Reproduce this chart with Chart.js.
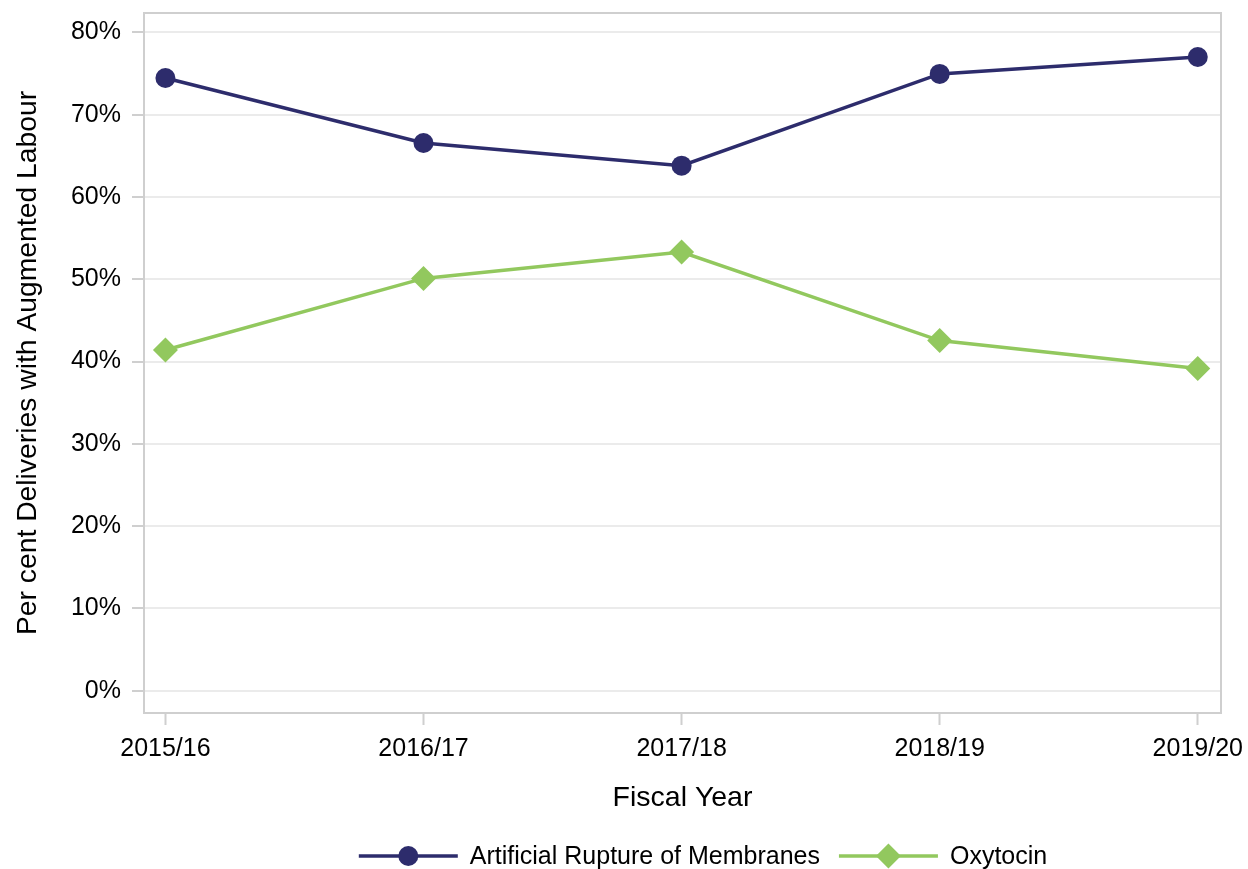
<!DOCTYPE html>
<html lang="en">
<head>
    <meta charset="UTF-8">
    <title>Augmented Labour by Fiscal Year</title>
    <script src="https://cdn.jsdelivr.net/npm/chart.js"></script>
    <style>
        body {
            margin: 0;
            padding: 0;
            background: #fff;
        }
        canvas {
            display: block;
        }
    </style>
</head>
<body>
    <canvas id="augChart" width="1248" height="869"></canvas>

    <script>
        // values
        const fiscalYears = ['2015/16', '2016/17', '2017/18', '2018/19', '2019/20'];
        const armValues = [74.45, 66.55, 63.8, 74.95, 77.0];
        const oxytocinValues = [41.4, 50.1, 53.3, 42.55, 39.15];
        const yTickValues = [0, 10, 20, 30, 40, 50, 60, 70, 80];

        const navy = '#2d2c6c';
        const green = '#92c85e';
        const fontFamily = "'Liberation Sans', Arial, sans-serif";

        // box around the plot area + line/marker legend at the bottom
        const frameAndLegend = {
            id: 'frameAndLegend',
            beforeDatasetsDraw(chart) {
                const { ctx, chartArea: a } = chart;
                ctx.save();
                ctx.strokeStyle = '#cfcfcf';
                ctx.lineWidth = 2;
                ctx.strokeRect(a.left, a.top, a.right - a.left, a.bottom - a.top);
                ctx.restore();
            },
            afterDraw(chart) {
                const ctx = chart.ctx;
                const items = chart.data.datasets.map(ds => ({
                    label: ds.label,
                    color: ds.borderColor,
                    style: ds.pointStyle,
                    radius: ds.pointRadius
                }));
                ctx.save();
                ctx.font = '25px ' + fontFamily;
                const lineLen = 99, gapText = 12, gapItem = 19;
                let total = 0;
                items.forEach((it, i) => {
                    total += lineLen + gapText + ctx.measureText(it.label).width;
                    if (i < items.length - 1) total += gapItem;
                });
                let x = 703 - total / 2;
                const y = 856;
                items.forEach(it => {
                    ctx.strokeStyle = it.color;
                    ctx.lineWidth = 3.5;
                    ctx.beginPath();
                    ctx.moveTo(x, y);
                    ctx.lineTo(x + lineLen, y);
                    ctx.stroke();
                    ctx.fillStyle = it.color;
                    Chart.helpers.drawPoint(ctx, {
                        pointStyle: it.style,
                        radius: it.radius,
                        borderWidth: 0
                    }, x + lineLen / 2, y);
                    ctx.fillStyle = '#000';
                    ctx.textBaseline = 'middle';
                    ctx.fillText(it.label, x + lineLen + gapText, y + 1);
                    x += lineLen + gapText + ctx.measureText(it.label).width + gapItem;
                });
                ctx.restore();
            }
        };

        const ctx = document.getElementById('augChart').getContext('2d');

        new Chart(ctx, {
            type: 'line',
            data: {
                datasets: [
                    {
                        label: 'Artificial Rupture of Membranes',
                        data: armValues.map((v, i) => ({ x: i, y: v })),
                        borderColor: navy,
                        backgroundColor: navy,
                        borderWidth: 3.5,
                        pointStyle: 'circle',
                        pointRadius: 10,
                        pointBorderWidth: 0,
                        tension: 0
                    },
                    {
                        label: 'Oxytocin',
                        data: oxytocinValues.map((v, i) => ({ x: i, y: v })),
                        borderColor: green,
                        backgroundColor: green,
                        borderWidth: 3.5,
                        pointStyle: 'rectRot',
                        pointRadius: 12.5,
                        pointBorderWidth: 0,
                        tension: 0
                    }
                ]
            },
            options: {
                responsive: false,
                animation: false,
                layout: {
                    padding: { top: 13, right: 27, bottom: 54, left: 0 }
                },
                plugins: {
                    legend: { display: false },
                    tooltip: { enabled: false }
                },
                scales: {
                    x: {
                        type: 'linear',
                        min: -0.083,
                        max: 4.09,
                        afterBuildTicks: scale => {
                            scale.ticks = fiscalYears.map((_, i) => ({ value: i }));
                        },
                        afterFit: scale => {
                            scale.height = 102;
                            scale.paddingLeft = 0;
                            scale.paddingRight = 0;
                        },
                        border: { display: false },
                        grid: {
                            drawOnChartArea: false,
                            drawTicks: true,
                            tickLength: 12,
                            tickColor: '#cfcfcf',
                            tickWidth: 2
                        },
                        ticks: {
                            padding: 9,
                            color: '#000',
                            font: { family: fontFamily, size: 25 },
                            maxRotation: 0,
                            callback: v => fiscalYears[v]
                        },
                        title: {
                            display: true,
                            text: 'Fiscal Year',
                            color: '#000',
                            padding: { top: 0, bottom: 0 },
                            font: { family: fontFamily, size: 28.5 }
                        }
                    },
                    y: {
                        min: -2.7,
                        max: 82.35,
                        afterBuildTicks: scale => {
                            scale.ticks = yTickValues.map(v => ({ value: v }));
                        },
                        afterFit: scale => {
                            scale.width = 144;
                            scale.paddingTop = 0;
                            scale.paddingBottom = 0;
                        },
                        border: { display: false },
                        grid: {
                            color: '#ebebeb',
                            lineWidth: 2,
                            tickLength: 12,
                            tickColor: '#cfcfcf',
                            tickWidth: 2
                        },
                        ticks: {
                            padding: 11,
                            color: '#000',
                            font: { family: fontFamily, size: 25 },
                            callback: v => v + '%'
                        },
                        title: {
                            display: true,
                            text: 'Per cent Deliveries with Augmented Labour',
                            color: '#000',
                            padding: { top: 11, bottom: 0 },
                            font: { family: fontFamily, size: 28.3 }
                        }
                    }
                }
            },
            plugins: [frameAndLegend]
        });
    </script>
</body>
</html>
